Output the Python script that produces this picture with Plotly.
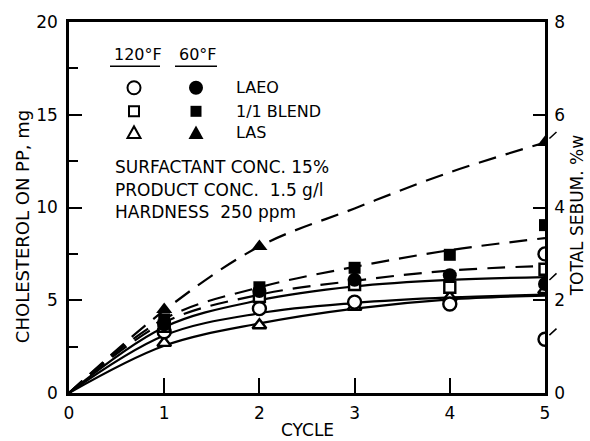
import plotly.graph_objects as go

# ---------------- data ----------------
cycles = [0, 1, 2, 3, 4, 5]
pt_cycles = [1, 2, 3, 4, 5]

# fitted curves (cholesterol, mg)
las60_fit = [0, 4.45, 7.9, 9.95, 11.9, 13.5]
blend60_fit = [0, 4.0, 5.7, 6.8, 7.7, 8.35]
laeo60_fit = [0, 3.8, 5.3, 6.05, 6.6, 6.85]
blend120_fit = [0, 3.55, 5.0, 5.75, 6.1, 6.25]
laeo120_fit = [0, 3.1, 4.3, 4.85, 5.15, 5.3]
las120_fit = [0, 2.55, 3.75, 4.55, 5.05, 5.25]

# measured points (cholesterol, mg)
laeo120_pts = [3.3, 4.55, 4.9, 4.8, 7.5]
laeo60_cyc = [1, 2, 3, 4]
laeo60_pts = [3.7, 5.5, 6.1, 6.35]
blend120_pts = [3.6, 5.2, 5.85, 5.7, 6.67]
blend60_pts = [3.97, 5.7, 6.75, 7.45, 9.05]
las120_pts = [2.7, 3.65, 4.65, 5.15, 5.55]
las60_cyc = [1, 2]
las60_pts = [4.5, 7.9]

# total sebum (%w, right axis) at cycle 5
sebum_cycle = 5
sebum_laeo120 = 1.16
sebum_laeo60 = 2.35
sebum_las60 = 5.4

legend_names = ["LAEO", "1/1 BLEND", "LAS"]
temps = ["120°F", "60°F"]
conditions = ["SURFACTANT CONC. 15%", "PRODUCT CONC.  1.5 g/l", "HARDNESS  250 ppm"]

# ---------------- layout geometry ----------------
W, H = 590, 441
ML, MR, MT, MB = 69, 45, 15, 48
PW, PH = W - ML - MR, H - MT - MB
FONT = "DejaVu Sans"
BLK = "black"


def px(x):
    return (x - ML) / PW


def py(y):
    return (H - MB - y) / PH


fig = go.Figure()

DASH = "18px,10px"


def curve(vals, dashed):
    fig.add_trace(go.Scatter(
        x=cycles, y=vals, mode="lines", line_shape="spline",
        line=dict(color=BLK, width=2.2, dash=DASH if dashed else "solid"),
        hoverinfo="skip", showlegend=False))


curve(las60_fit, True)
curve(blend60_fit, True)
curve(laeo60_fit, True)
curve(blend120_fit, False)
curve(laeo120_fit, False)
curve(las120_fit, False)


def pts(xs, ys, symbol, size, yaxis="y"):
    fig.add_trace(go.Scatter(
        x=xs, y=ys, mode="markers", yaxis=yaxis,
        marker=dict(symbol=symbol, size=size, color=BLK,
                    line=dict(color=BLK, width=0)),
        hoverinfo="skip", showlegend=False))


def pts_open(xs, ys, symbol, size, yaxis="y"):
    fig.add_trace(go.Scatter(
        x=xs, y=ys, mode="markers", yaxis=yaxis,
        marker=dict(symbol=symbol, size=size, color="white",
                    line=dict(color=BLK, width=2.4)),
        hoverinfo="skip", showlegend=False))


pts_open(pt_cycles, las120_pts, "triangle-up", 12)
pts_open(pt_cycles, laeo120_pts, "circle", 13)
pts_open(pt_cycles, blend120_pts, "square", 11)
pts(laeo60_cyc, laeo60_pts, "circle", 14)
pts(pt_cycles, blend60_pts, "square", 12)
pts(las60_cyc, las60_pts, "triangle-up", 14)

# sebum points on right axis
pts_open([sebum_cycle], [sebum_laeo120], "circle", 13, yaxis="y2")
pts([sebum_cycle], [sebum_laeo60], "circle", 14, yaxis="y2")
pts([sebum_cycle], [sebum_las60], "triangle-up", 14, yaxis="y2")

annotations = []
# slash marks on sebum points
for v in [sebum_laeo120, sebum_laeo60, sebum_las60]:
    annotations.append(dict(x=sebum_cycle, y=v, xref="x", yref="y2",
                            text=" ", showarrow=True, arrowhead=0,
                            arrowwidth=1.5, arrowcolor=BLK,
                            ax=13, ay=-12, standoff=6,
                            font=dict(size=1)))


def txt(x, y, s, size=17, xanchor="left", angle=0):
    annotations.append(dict(x=px(x), y=py(y), xref="paper", yref="paper",
                            text=s, showarrow=False, xanchor=xanchor,
                            yanchor="middle", textangle=angle,
                            font=dict(family=FONT, size=size, color=BLK)))


# legend header
txt(112, 48, temps[0], 16)
txt(177, 48, temps[1], 16)
for i, name in enumerate(legend_names):
    txt(234, [82, 106, 128][i], name, 16)
for i, line in enumerate(conditions):
    txt(113, [163, 186, 209][i], line, 17)

# axis titles
txt(22, 224, "CHOLESTEROL ON PP, mg", 18, xanchor="center", angle=-90)
txt(577, 212, "TOTAL SEBUM. %w", 17, xanchor="center", angle=-90)
txt(307, 431, "CYCLE", 17, xanchor="center")

shapes = []
# underlines for the temperature headers
for x0, x1 in [(110, 160), (175, 217)]:
    shapes.append(dict(type="line", xref="paper", yref="paper",
                       x0=px(x0), x1=px(x1), y0=py(60), y1=py(60),
                       line=dict(color=BLK, width=1.5)))


def legend_marker(x, y, kind, filled):
    fill = BLK if filled else "white"
    common = dict(xref="paper", yref="paper", xsizemode="pixel",
                  ysizemode="pixel", xanchor=px(x), yanchor=py(y),
                  fillcolor=fill, line=dict(color=BLK, width=2 if not filled else 0))
    if kind == "circle":
        r = 6.5 if not filled else 7
        shapes.append(dict(type="circle", x0=-r, x1=r, y0=-r, y1=r, **common))
    elif kind == "square":
        r = 5 if not filled else 5.5
        shapes.append(dict(type="rect", x0=-r, x1=r, y0=-r, y1=r, **common))
    else:
        r = 6.5 if not filled else 7.5
        shapes.append(dict(type="path",
                           path=f"M {-r},{-r*0.8} L {r},{-r*0.8} L 0,{r} Z",
                           **common))


for i, kind in enumerate(["circle", "square", "triangle"]):
    yy = [82, 106, 128][i]
    legend_marker(134, yy, kind, False)
    legend_marker(196, yy, kind, True)

fig.update_layout(
    width=W, height=H, margin=dict(l=ML, r=MR, t=MT, b=MB),
    paper_bgcolor="white", plot_bgcolor="white",
    font=dict(family=FONT, size=17, color=BLK),
    showlegend=False,
    annotations=annotations, shapes=shapes,
    xaxis=dict(range=[0, 5], tickvals=[0, 1, 2, 3, 4, 5], ticks="inside",
               ticklen=15, tickwidth=1.5, tickcolor=BLK,
               showline=True, linewidth=2.5, linecolor=BLK, mirror=True,
               showgrid=False, zeroline=False, ticklabelstandoff=3,
               tickfont=dict(size=17)),
    yaxis=dict(range=[0, 20], tickvals=[0, 5, 10, 15, 20], ticks="inside",
               ticklen=13, tickwidth=1.5, tickcolor=BLK,
               minor=dict(tickvals=[2.5, 7.5, 12.5, 17.5], ticks="inside",
                          ticklen=9, tickwidth=1.5, tickcolor=BLK),
               showline=True, linewidth=2.5, linecolor=BLK,
               showgrid=False, zeroline=False, ticklabelstandoff=5,
               tickfont=dict(size=17)),
    yaxis2=dict(range=[0, 8], tickvals=[0, 2, 4, 6, 8], ticks="inside",
                ticklen=12, tickwidth=1.5, tickcolor=BLK, side="right",
                overlaying="y", showline=True, linewidth=2.5, linecolor=BLK,
                showgrid=False, zeroline=False, ticklabelstandoff=3,
                tickfont=dict(size=17)),
)

fig.write_html("out.html")
